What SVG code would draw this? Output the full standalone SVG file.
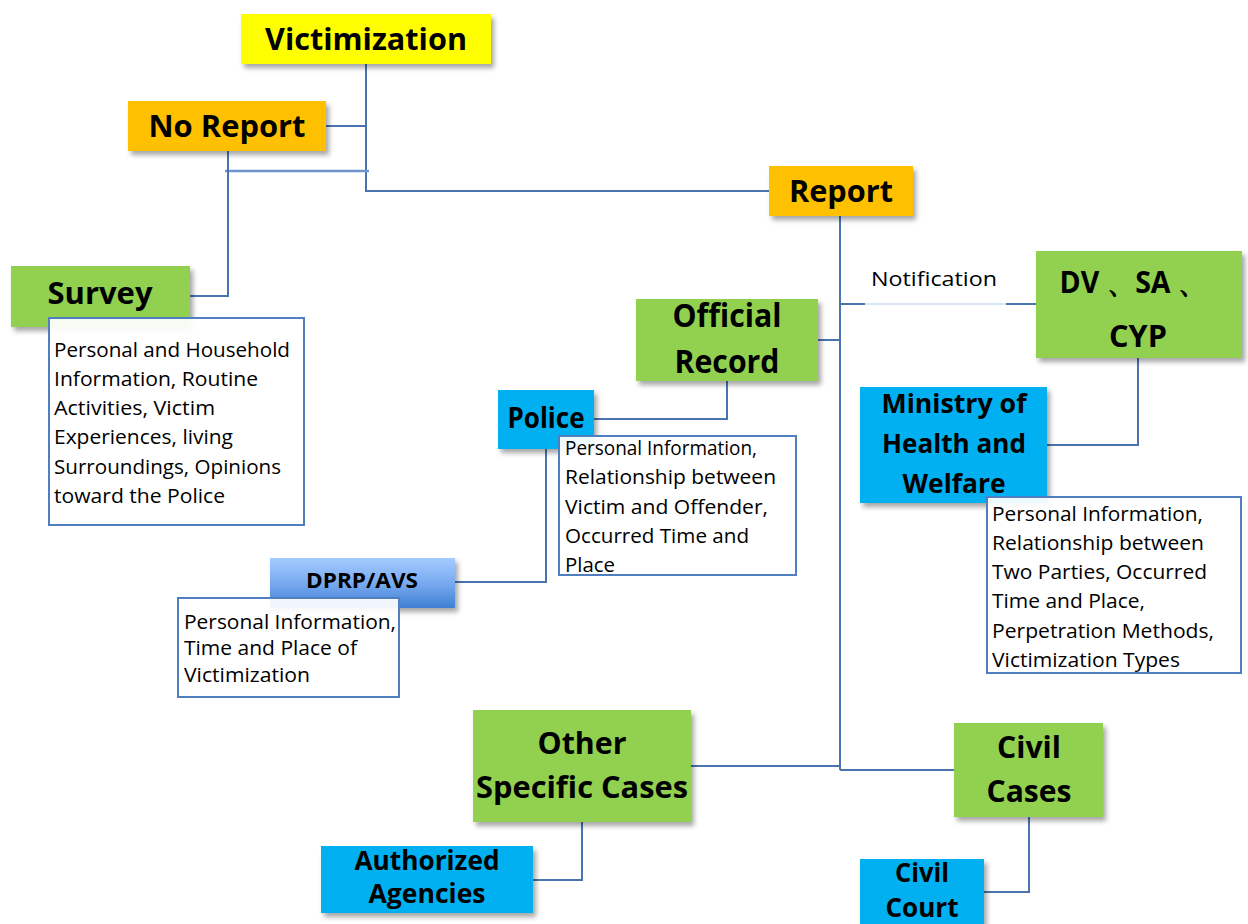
<svg xmlns="http://www.w3.org/2000/svg" width="1248" height="924" viewBox="0 0 1248 924">
<defs>
<filter id="sh" x="-10%" y="-10%" width="130%" height="140%">
<feDropShadow dx="3" dy="4" stdDeviation="2.5" flood-color="#000" flood-opacity="0.35"/>
</filter>
<linearGradient id="gb" x1="0" y1="0" x2="0" y2="1">
<stop offset="0" stop-color="#A5CBFF"/>
<stop offset="0.5" stop-color="#79AAF0"/>
<stop offset="1" stop-color="#3F80D5"/>
</linearGradient>
<style>
.yel{fill:#FFFF00;filter:url(#sh)}
.org{fill:#FFC000;filter:url(#sh)}
.grn{fill:#92D050;filter:url(#sh)}
.blu{fill:#00B0F0;filter:url(#sh)}
.grd{fill:url(#gb);filter:url(#sh)}
.info{fill:#FFFFFF;fill-opacity:0.93;stroke:#4F7FC0;stroke-width:2}
.t{font-family:"Open Sans","Noto Sans","Liberation Sans",sans-serif;font-weight:bold;fill:#000;text-anchor:middle}
.b{font-family:"Open Sans","Noto Sans","Liberation Sans",sans-serif;font-size:20px;fill:#000}
.ln{fill:none;stroke:#4A74B0;stroke-width:2}
</style>
</defs>
<g id="connectors">
<polyline class="ln" points="366,64 366,191 769,191"/>
<line class="ln" x1="326" y1="126" x2="366" y2="126"/>
<line x1="225" y1="171" x2="369" y2="171" stroke="#6E95CE" stroke-width="2.5"/>
<polyline class="ln" points="228,151 228,296 190,296"/>
<line class="ln" x1="840" y1="216" x2="840" y2="770"/>
<line class="ln" x1="840" y1="304" x2="865" y2="304"/>
<line x1="865" y1="304" x2="1006" y2="304" stroke="#DDE5F0" stroke-width="2"/>
<line class="ln" x1="1006" y1="304" x2="1036" y2="304"/>
<line class="ln" x1="818" y1="340" x2="840" y2="340"/>
<polyline class="ln" points="727,381 727,419 594,419"/>
<polyline class="ln" points="546,449 546,582 455,582"/>
<polyline class="ln" points="1138,358 1138,445 1047,445"/>
<line class="ln" x1="691" y1="766" x2="840" y2="766"/>
<line class="ln" x1="840" y1="770" x2="954" y2="770"/>
<polyline class="ln" points="582,822 582,880 533,880"/>
<polyline class="ln" points="1029,817 1029,892 984,892"/>
</g>
<g id="victimization">
<rect class="yel" x="241" y="14" width="250" height="50"/>
<text class="t" x="366" y="50" font-size="31" textLength="202" lengthAdjust="spacingAndGlyphs">Victimization</text>
</g>
<g id="no-report">
<rect class="org" x="128" y="101" width="198" height="50"/>
<text class="t" x="227" y="137" font-size="31" textLength="157" lengthAdjust="spacingAndGlyphs">No Report</text>
</g>
<g id="report">
<rect class="org" x="769" y="166" width="144" height="50"/>
<text class="t" x="841" y="202" font-size="31" textLength="104" lengthAdjust="spacingAndGlyphs">Report</text>
</g>
<g id="survey">
<rect class="grn" x="11" y="266" width="179" height="61"/>
<text class="t" x="100" y="304" font-size="30" textLength="105" lengthAdjust="spacingAndGlyphs">Survey</text>
</g>
<g id="survey-info">
<rect class="info" x="49" y="318" width="255" height="207"/>
<text class="b" x="54" y="357" textLength="236" lengthAdjust="spacingAndGlyphs">Personal and Household</text>
<text class="b" x="54" y="386" textLength="204" lengthAdjust="spacingAndGlyphs">Information, Routine</text>
<text class="b" x="54" y="415" textLength="161" lengthAdjust="spacingAndGlyphs">Activities, Victim</text>
<text class="b" x="54" y="444" textLength="179" lengthAdjust="spacingAndGlyphs">Experiences, living</text>
<text class="b" x="54" y="474" textLength="227" lengthAdjust="spacingAndGlyphs">Surroundings, Opinions</text>
<text class="b" x="54" y="503" textLength="171" lengthAdjust="spacingAndGlyphs">toward the Police</text>
</g>
<g id="notification">
<text class="b" x="871" y="286" font-size="21" textLength="126" lengthAdjust="spacingAndGlyphs">Notification</text>
</g>
<g id="dv-sa-cyp">
<rect class="grn" x="1036" y="251" width="206" height="107"/>
<text class="t" x="1133" y="293" font-size="30" textLength="147" lengthAdjust="spacingAndGlyphs">DV 、SA 、</text>
<text class="t" x="1138" y="347" font-size="30" textLength="58" lengthAdjust="spacingAndGlyphs">CYP</text>
</g>
<g id="official-record">
<rect class="grn" x="636" y="299" width="182" height="82"/>
<text class="t" x="727" y="327" font-size="32" textLength="109" lengthAdjust="spacingAndGlyphs">Official</text>
<text class="t" x="727" y="373" font-size="32" textLength="105" lengthAdjust="spacingAndGlyphs">Record</text>
</g>
<g id="police">
<rect class="blu" x="498" y="390" width="96" height="59"/>
<text class="t" x="546" y="428" font-size="28" textLength="77" lengthAdjust="spacingAndGlyphs">Police</text>
</g>
<g id="police-info">
<rect class="info" x="559" y="436" width="237" height="139"/>
<text class="b" x="565" y="455" textLength="192" lengthAdjust="spacingAndGlyphs">Personal Information,</text>
<text class="b" x="565" y="484" textLength="211" lengthAdjust="spacingAndGlyphs">Relationship between</text>
<text class="b" x="565" y="514" textLength="203" lengthAdjust="spacingAndGlyphs">Victim and Offender,</text>
<text class="b" x="565" y="543" textLength="184" lengthAdjust="spacingAndGlyphs">Occurred Time and</text>
<text class="b" x="565" y="572" textLength="50" lengthAdjust="spacingAndGlyphs">Place</text>
</g>
<g id="ministry">
<rect class="blu" x="860" y="387" width="187" height="116"/>
<text class="t" x="954" y="413" font-size="27" textLength="145" lengthAdjust="spacingAndGlyphs">Ministry of</text>
<text class="t" x="954" y="453" font-size="27" textLength="144" lengthAdjust="spacingAndGlyphs">Health and</text>
<text class="t" x="954" y="493" font-size="27" textLength="103" lengthAdjust="spacingAndGlyphs">Welfare</text>
</g>
<g id="ministry-info">
<rect class="info" x="987" y="497" width="254" height="176"/>
<text class="b" x="992" y="521" textLength="211" lengthAdjust="spacingAndGlyphs">Personal Information,</text>
<text class="b" x="992" y="550" textLength="212" lengthAdjust="spacingAndGlyphs">Relationship between</text>
<text class="b" x="992" y="579" textLength="215" lengthAdjust="spacingAndGlyphs">Two Parties, Occurred</text>
<text class="b" x="992" y="608" textLength="153" lengthAdjust="spacingAndGlyphs">Time and Place,</text>
<text class="b" x="992" y="638" textLength="222" lengthAdjust="spacingAndGlyphs">Perpetration Methods,</text>
<text class="b" x="992" y="667" textLength="188" lengthAdjust="spacingAndGlyphs">Victimization Types</text>
</g>
<g id="dprp-avs">
<rect class="grd" x="270" y="558" width="185" height="50"/>
<text class="t" x="362" y="588" font-size="21" textLength="112" lengthAdjust="spacingAndGlyphs">DPRP/AVS</text>
</g>
<g id="dprp-info">
<rect class="info" x="178" y="598" width="221" height="99"/>
<text class="b" x="184" y="629" textLength="212" lengthAdjust="spacingAndGlyphs">Personal Information,</text>
<text class="b" x="184" y="655" textLength="173" lengthAdjust="spacingAndGlyphs">Time and Place of</text>
<text class="b" x="184" y="682" textLength="126" lengthAdjust="spacingAndGlyphs">Victimization</text>
</g>
<g id="other-specific-cases">
<rect class="grn" x="473" y="710" width="218" height="112"/>
<text class="t" x="582" y="754" font-size="31" textLength="89" lengthAdjust="spacingAndGlyphs">Other</text>
<text class="t" x="582" y="798" font-size="31" textLength="212" lengthAdjust="spacingAndGlyphs">Specific Cases</text>
</g>
<g id="civil-cases">
<rect class="grn" x="954" y="723" width="149" height="94"/>
<text class="t" x="1029" y="758" font-size="31" textLength="64" lengthAdjust="spacingAndGlyphs">Civil</text>
<text class="t" x="1029" y="802" font-size="31" textLength="85" lengthAdjust="spacingAndGlyphs">Cases</text>
</g>
<g id="authorized-agencies">
<rect class="blu" x="321" y="846" width="212" height="67"/>
<text class="t" x="427" y="870" font-size="26" textLength="145" lengthAdjust="spacingAndGlyphs">Authorized</text>
<text class="t" x="427" y="903" font-size="26" textLength="117" lengthAdjust="spacingAndGlyphs">Agencies</text>
</g>
<g id="civil-court">
<rect class="blu" x="860" y="859" width="124" height="70"/>
<text class="t" x="922" y="882" font-size="27" textLength="54" lengthAdjust="spacingAndGlyphs">Civil</text>
<text class="t" x="922" y="917" font-size="27" textLength="73" lengthAdjust="spacingAndGlyphs">Court</text>
</g>
</svg>
